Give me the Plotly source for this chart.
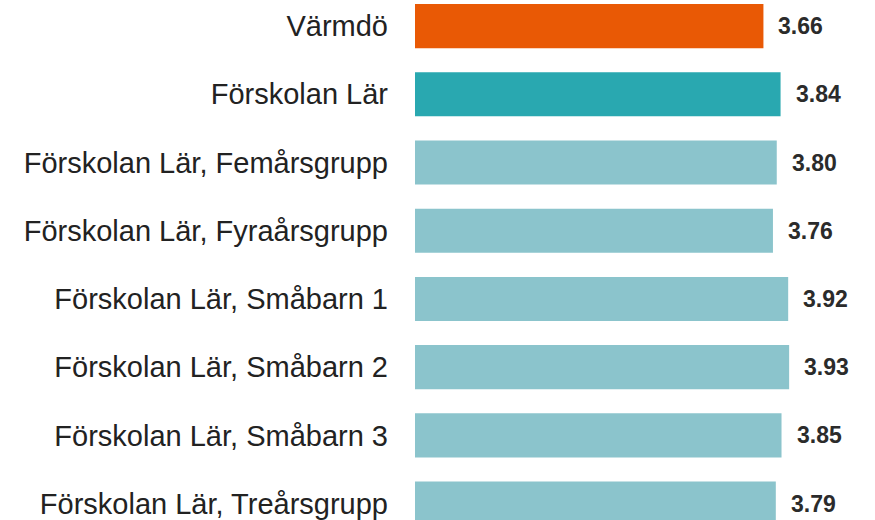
import plotly.graph_objects as go

categories = [
    "Värmdö",
    "Förskolan Lär",
    "Förskolan Lär, Femårsgrupp",
    "Förskolan Lär, Fyraårsgrupp",
    "Förskolan Lär, Småbarn 1",
    "Förskolan Lär, Småbarn 2",
    "Förskolan Lär, Småbarn 3",
    "Förskolan Lär, Treårsgrupp",
]
values = [3.66, 3.84, 3.80, 3.76, 3.92, 3.93, 3.85, 3.79]
value_labels = ["3.66", "3.84", "3.80", "3.76", "3.92", "3.93", "3.85", "3.79"]

ORANGE = "#E95905"
TEAL = "#29A8B0"
LIGHT = "#8BC4CC"
bar_colors = [ORANGE, TEAL] + [LIGHT] * (len(categories) - 2)

fig = go.Figure()
fig.add_trace(go.Bar(
    x=values,
    y=categories,
    orientation="h",
    marker=dict(color=bar_colors, line=dict(width=0)),
    hoverinfo="skip",
))

for cat, v, lab in zip(categories, values, value_labels):
    fig.add_annotation(
        x=v, y=cat, text="<b>%s</b>" % lab, showarrow=False,
        xanchor="left", yanchor="middle", xshift=13,
        font=dict(family="Liberation Sans, Arial", size=23, color="#2b2b2b"),
    )

W, H = 875, 520
left = 415
plot_w = W - left
px_per_unit = 95.2

fig.update_layout(
    width=W, height=H,
    margin=dict(l=left, r=0, t=0, b=0),
    plot_bgcolor="white", paper_bgcolor="white",
    bargap=0.353,
    showlegend=False,
    xaxis=dict(range=[0, plot_w / px_per_unit], visible=False, fixedrange=True),
    yaxis=dict(
        type="category",
        categoryorder="array", categoryarray=categories,
        range=[7.24, -0.382],
        showgrid=False, zeroline=False, showline=False, ticks="",
        ticklabelstandoff=26, fixedrange=True,
        tickfont=dict(family="Liberation Sans, Arial", size=29, color="#222222"),
    ),
)

fig.write_html(
    "out.html",
    config={"displayModeBar": False, "staticPlot": True},
    post_script="document.body.style.margin='0';document.body.style.overflow='hidden';",
)
